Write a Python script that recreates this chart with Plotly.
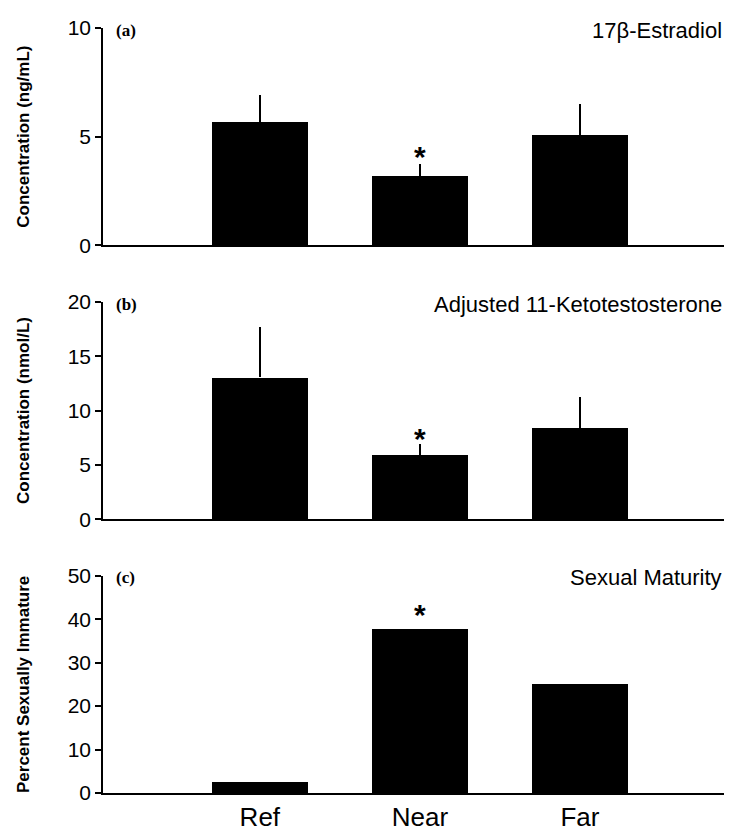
import plotly.graph_objects as go

# ---- data ----
sites = ["Ref", "Near", "Far"]
site_pos = [1, 2, 3]

estradiol = [5.69, 3.20, 5.07]
estradiol_err = [1.22, 0.55, 1.41]

kt11 = [13.05, 5.94, 8.40]
kt11_err = [4.65, 1.00, 2.80]

immature = [2.6, 37.7, 25.1]

panel_titles = ["17\u03b2-Estradiol", "Adjusted 11-Ketotestosterone", "Sexual Maturity"]
panel_labels = ["(a)", "(b)", "(c)"]
y_titles = ["Concentration (ng/mL)", "Concentration (nmol/L)", "Percent Sexually Immature"]
y_ranges = [[0, 10], [0, 20], [0, 50]]
y_dticks = [5, 5, 10]

# ---- figure ----
W, H = 732, 832
mt, mb = 20, 41
plot_h = H - mt - mb
panel_h = 219
gap = (plot_h - 3 * panel_h) / 2

domains = []
for i in range(3):
    top = 1 - (i * (panel_h + gap)) / plot_h
    bot = top - panel_h / plot_h
    domains.append([max(bot, 0), min(top, 1)])

fig = go.Figure()

series = [(estradiol, estradiol_err), (kt11, kt11_err), (immature, None)]
font_sans = "Liberation Sans"

for i, (vals, errs) in enumerate(series):
    xa = "x" if i == 0 else f"x{i+1}"
    ya = "y" if i == 0 else f"y{i+1}"
    kw = {}
    if errs is not None:
        kw["error_y"] = dict(type="data", array=errs, arrayminus=[0] * len(errs),
                             symmetric=False, width=0, thickness=1.5, color="black")
    fig.add_trace(go.Bar(x=site_pos, y=vals, width=0.6, marker=dict(color="black", line=dict(width=0)),
                         xaxis=xa, yaxis=ya, showlegend=False, **kw))

for i in range(3):
    xkey = "xaxis" if i == 0 else f"xaxis{i+1}"
    ykey = "yaxis" if i == 0 else f"yaxis{i+1}"
    yanchor_name = "y" if i == 0 else f"y{i+1}"
    xanchor_name = "x" if i == 0 else f"x{i+1}"
    fig.layout[xkey] = dict(domain=[0, 1], anchor=yanchor_name, range=[0.02, 3.95],
                            showline=True, linecolor="black", linewidth=1.5,
                            showgrid=False, zeroline=False, ticks="",
                            tickvals=site_pos, ticktext=sites,
                            showticklabels=(i == 2),
                            tickfont=dict(family=font_sans, size=26, color="black"))
    fig.layout[ykey] = dict(domain=domains[i], anchor=xanchor_name, range=y_ranges[i],
                            dtick=y_dticks[i], tick0=0,
                            showline=True, linecolor="black", linewidth=1.5,
                            showgrid=False, zeroline=False, ticks="outside", ticklen=6,
                            tickwidth=1.5, tickcolor="black",
                            tickfont=dict(family=font_sans, size=21, color="black"),
                            title=dict(text="<b>" + y_titles[i] + "</b>", standoff=34,
                                       font=dict(family=font_sans, size=17, color="black")))
    # panel label
    xref = "x domain" if i == 0 else f"x{i+1} domain"
    yref = "y domain" if i == 0 else f"y{i+1} domain"
    fig.add_annotation(x=0.017, y=0.99, xref=xref, yref=yref, text="<b>" + panel_labels[i] + "</b>",
                       showarrow=False, xanchor="left", yanchor="middle",
                       font=dict(family="Liberation Serif", size=17, color="black"))
    fig.add_annotation(x=1.0, y=0.99, xref=xref, yref=yref, text=panel_titles[i],
                       showarrow=False, xanchor="right", yanchor="middle", xshift=-8,
                       font=dict(family=font_sans, size=22, color="black"))

# significance asterisks on "Near"
star_y = [estradiol[1] + estradiol_err[1], kt11[1] + kt11_err[1], immature[1]]
star_shift = [-11, -13, -4]
for i in range(3):
    xr = "x" if i == 0 else f"x{i+1}"
    yr = "y" if i == 0 else f"y{i+1}"
    fig.add_annotation(x=site_pos[1], y=star_y[i], xref=xr, yref=yr, text="<b>*</b>",
                       showarrow=False, xanchor="center", yanchor="bottom", yshift=star_shift[i],
                       font=dict(family=font_sans, size=30, color="black"))

fig.update_layout(width=W, height=H, margin=dict(l=95, r=8, t=mt, b=mb),
                  plot_bgcolor="white", paper_bgcolor="white", bargap=0)

fig.write_html("out.html")
